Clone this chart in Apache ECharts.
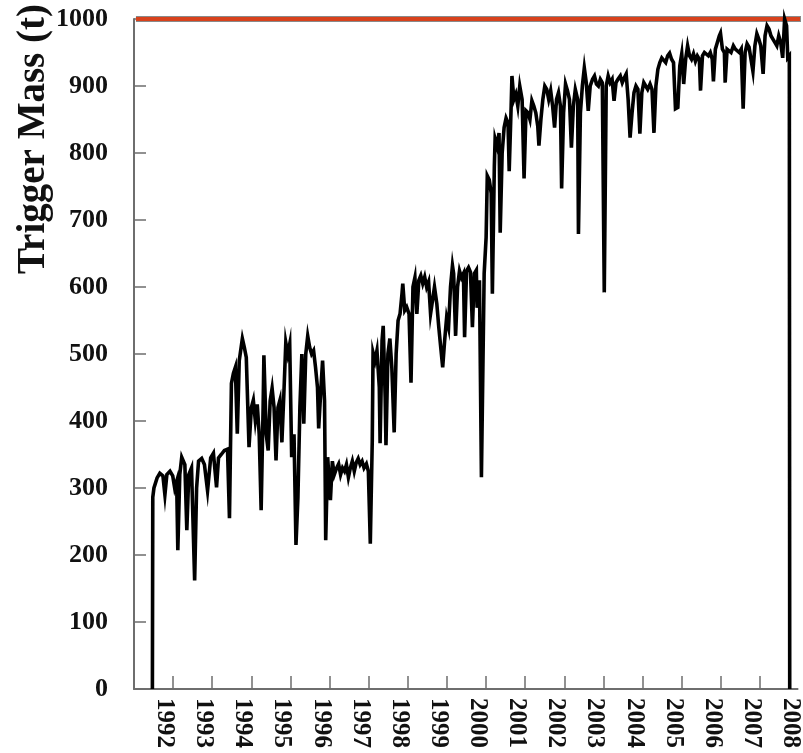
<!DOCTYPE html>
<html><head><meta charset="utf-8">
<script src="https://cdn.jsdelivr.net/npm/echarts@6/dist/echarts.min.js"></script>
<style>html,body{margin:0;padding:0;background:#fff}#c{width:803px;height:753px}</style>
</head><body><div id="c"></div>
<script>
const yearTicks = [1992,1993,1994,1995,1996,1997,1998,1999,2000,2001,2002,2003,2004,2005,2006,2007,2008];
const yTicks = [0,100,200,300,400,500,600,700,800,900,1000];
const yAxisTitle = 'Trigger Mass (t)';
const triggerLimit = 1000;
const limitYears = [1991.05, 2008.6];

const years = [
1991.47,1991.48,1991.51,1991.59,1991.66,1991.74,1991.79,1991.84,1991.92,1991.99,
1992.04,1992.09,1992.12,1992.17,1992.22,1992.30,1992.35,1992.40,1992.47,1992.55,
1992.60,1992.65,1992.73,1992.80,1992.88,1992.96,1993.03,1993.11,1993.16,1993.23,
1993.31,1993.39,1993.44,1993.49,1993.54,1993.59,1993.64,1993.69,1993.77,1993.82,
1993.87,1993.94,1994.00,1994.05,1994.10,1994.15,1994.20,1994.25,1994.30,1994.32,
1994.38,1994.43,1994.48,1994.53,1994.58,1994.63,1994.68,1994.73,1994.78,1994.83,
1994.88,1994.93,1994.98,1995.03,1995.09,1995.14,1995.19,1995.24,1995.29,1995.34,
1995.39,1995.44,1995.49,1995.54,1995.59,1995.64,1995.69,1995.72,1995.77,1995.82,
1995.87,1995.90,1995.95,1996.00,1996.02,1996.07,1996.12,1996.18,1996.23,1996.28,
1996.33,1996.38,1996.43,1996.48,1996.53,1996.58,1996.63,1996.68,1996.73,1996.78,
1996.83,1996.88,1996.94,1996.99,1997.04,1997.09,1997.11,1997.16,1997.21,1997.27,
1997.29,1997.34,1997.37,1997.42,1997.44,1997.49,1997.54,1997.59,1997.65,1997.70,
1997.75,1997.80,1997.85,1997.87,1997.92,1997.97,1998.03,1998.08,1998.13,1998.18,
1998.23,1998.28,1998.33,1998.38,1998.43,1998.48,1998.53,1998.58,1998.63,1998.68,
1998.74,1998.79,1998.84,1998.89,1998.94,1998.99,1999.04,1999.09,1999.14,1999.17,
1999.22,1999.27,1999.32,1999.37,1999.42,1999.45,1999.50,1999.55,1999.60,1999.65,
1999.70,1999.75,1999.77,1999.83,1999.88,1999.93,1999.95,2000.00,2000.03,2000.08,
2000.13,2000.16,2000.21,2000.23,2000.28,2000.33,2000.36,2000.41,2000.46,2000.51,
2000.56,2000.59,2000.64,2000.66,2000.71,2000.76,2000.81,2000.86,2000.92,2000.97,
2001.02,2001.07,2001.12,2001.17,2001.22,2001.27,2001.32,2001.35,2001.40,2001.45,
2001.50,2001.55,2001.60,2001.65,2001.70,2001.75,2001.80,2001.85,2001.90,2001.93,
2001.98,2002.03,2002.08,2002.13,2002.18,2002.23,2002.28,2002.34,2002.36,2002.41,
2002.46,2002.51,2002.56,2002.61,2002.66,2002.72,2002.77,2002.82,2002.87,2002.92,
2002.97,2003.02,2003.07,2003.12,2003.17,2003.22,2003.27,2003.32,2003.37,2003.43,
2003.48,2003.53,2003.58,2003.63,2003.68,2003.73,2003.78,2003.83,2003.88,2003.93,
2003.98,2004.03,2004.08,2004.13,2004.19,2004.24,2004.29,2004.34,2004.39,2004.44,
2004.49,2004.54,2004.59,2004.64,2004.69,2004.74,2004.79,2004.84,2004.90,2004.95,
2005.00,2005.05,2005.10,2005.15,2005.20,2005.25,2005.30,2005.35,2005.40,2005.45,
2005.48,2005.53,2005.58,2005.63,2005.68,2005.73,2005.78,2005.81,2005.86,2005.91,
2005.96,2005.99,2006.04,2006.09,2006.11,2006.16,2006.21,2006.26,2006.32,2006.37,
2006.42,2006.47,2006.52,2006.57,2006.62,2006.67,2006.72,2006.77,2006.82,2006.87,
2006.92,2006.97,2007.02,2007.08,2007.13,2007.18,2007.23,2007.28,2007.33,2007.38,
2007.43,2007.48,2007.53,2007.58,2007.63,2007.68,2007.71,2007.75,2007.76
];
const mass = [
0,286,300,315,322,318,290,320,325,318,
300,310,207,320,346,335,237,320,330,162,
300,340,344,335,296,345,352,301,345,350,
356,358,255,456,471,480,381,490,523,510,
495,361,420,431,401,425,380,267,420,498,
380,356,430,449,420,341,420,431,368,440,
517,500,515,346,380,215,286,420,500,396,
500,527,510,500,505,480,450,389,441,490,
430,222,346,300,282,340,320,330,336,320,
330,325,335,316,330,340,325,338,344,335,
340,330,336,325,217,371,502,490,505,450,
367,520,542,435,364,500,523,480,383,500,
550,560,590,605,565,570,560,457,600,614,
560,610,617,605,615,600,608,560,580,600,
575,540,510,480,520,554,540,600,632,620,
527,600,624,614,620,525,624,629,622,540,
620,625,569,610,316,318,620,674,766,760,
740,590,780,821,810,830,681,800,838,852,
845,773,870,915,880,888,870,900,880,762,
863,860,850,878,870,860,840,811,850,880,
900,895,880,893,870,838,880,890,870,747,
860,903,893,880,808,870,895,880,679,860,
900,927,905,863,900,910,915,903,900,910,
905,592,900,915,905,910,878,905,910,915,
905,912,918,880,823,860,890,900,895,829,
890,905,900,895,903,895,830,900,925,935,
942,940,935,945,949,940,935,866,868,930,
948,903,940,960,945,940,948,937,945,940,
893,945,950,948,945,950,940,907,955,965,
975,979,955,950,905,955,957,950,960,955,
957,950,955,866,950,963,958,960,922,960,
978,970,960,918,975,990,985,975,970,965,
960,975,965,942,1000,990,942,945,0
];

const serif = '"Liberation Serif","DejaVu Serif",serif';
const labelShift = 0.22;
const xMin = 1991, xMax = 2007.96;
const chart = echarts.init(document.getElementById('c'));
chart.setOption({
  animation: false,
  backgroundColor: '#ffffff',
  grid: { left: 134, right: 0, top: 19, bottom: 64, containLabel: false },
  xAxis: {
    type: 'value', min: xMin, max: xMax,
    axisLine: { show: true, onZero: false, lineStyle: { color: '#6e6e6e', width: 2 } },
    axisTick: { show: true, inside: true, length: 13, customValues: yearTicks.filter(v => v <= xMax), lineStyle: { color: '#6e6e6e', width: 1.5 } },
    axisLabel: {
      show: true, rotate: -90, margin: 9,
      customValues: yearTicks.map(v => v - labelShift),
      formatter: v => String(Math.round(v + labelShift)),
      fontFamily: serif, fontWeight: 'bold', fontSize: 25, color: '#111'
    },
    splitLine: { show: false }
  },
  yAxis: {
    type: 'value', min: 0, max: 1000, interval: 100,
    axisLine: { show: true, lineStyle: { color: '#6e6e6e', width: 2 } },
    axisTick: { show: true, inside: true, length: 12, lineStyle: { color: '#6e6e6e', width: 1.5 } },
    axisLabel: { margin: 26, fontFamily: serif, fontWeight: 'bold', fontSize: 26, color: '#111',
      customValues: yTicks, formatter: v => String(v) },
    splitLine: { show: false }
  },
  graphic: [{
    type: 'text', x: 34, y: 139, rotation: Math.PI / 2,
    style: { text: yAxisTitle, font: 'bold 39px ' + serif, fill: '#111', align: 'center', verticalAlign: 'middle' }
  }],
  series: [
    {
      type: 'line', showSymbol: false, clip: false, silent: true,
      data: limitYears.map(x => [x, triggerLimit]),
      lineStyle: { color: '#8a8a8a', width: 6 }, z: 3
    },
    {
      type: 'line', showSymbol: false, clip: false, silent: true,
      data: limitYears.map(x => [x, triggerLimit]),
      lineStyle: { color: '#d8421c', width: 4 }, z: 4
    },
    {
      type: 'line', showSymbol: false, silent: true, clip: false,
      data: years.map((x, i) => [x, mass[i]]),
      lineStyle: { color: '#000', width: 3.6, join: 'miter' }, z: 5
    }
  ]
});
</script>
</body></html>
